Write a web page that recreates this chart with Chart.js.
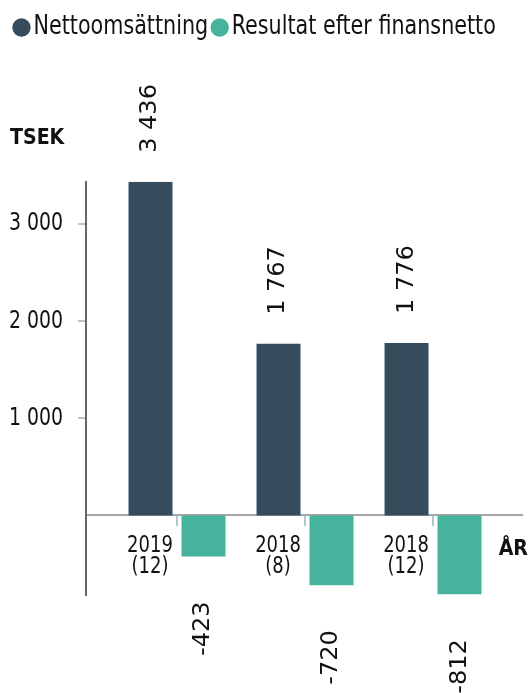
<!DOCTYPE html>
<html><head><meta charset="utf-8">
<script src="https://cdn.jsdelivr.net/npm/chart.js@4"></script>
<style>html,body{margin:0;padding:0;background:#fff}#wrap{width:531px;height:693px}</style>
</head><body><div id="wrap"><canvas id="c" width="531" height="693"></canvas></div>
<script>
const categories = [['2019','(12)'], ['2018','(8)'], ['2018','(12)']];
const seriesNames = ['Nettoomsättning', 'Resultat efter finansnetto'];
const netSales = [3436, 1767, 1776];
const resultAfterFin = [-423, -720, -812];
const yTicks = [1000, 2000, 3000];
const yTitle = 'TSEK';
const xTitle = 'ÅR';

const COND = '"DejaVu Sans Condensed", "DejaVu Sans", sans-serif';
const REG = '"DejaVu Sans", sans-serif';
const SY = 1.16; // vertical stretch of the lettering

const canvas = document.getElementById('c');
const ctx0 = canvas.getContext('2d');
const origFill = ctx0.fillText;
ctx0._rawFill = function(t, x, y) { origFill.call(this, t, x, y); };
ctx0.fillText = function(text, x, y, maxWidth) {
  this.save();
  this.translate(x, y);
  this.scale(1, SY);
  if (maxWidth === undefined) origFill.call(this, text, 0, 0);
  else origFill.call(this, text, 0, 0, maxWidth);
  this.restore();
};

function fmt(v) {
  const s = String(Math.abs(v)).replace(/\B(?=(\d{3})+(?!\d))/g, ' ');
  return (v < 0 ? '-' : '') + s;
}

const valueLabels = {
  id: 'valueLabels',
  afterDatasetsDraw(chart) {
    const ctx = chart.ctx;
    ctx.save();
    ctx.font = '23px ' + COND;
    ctx.fillStyle = '#111';
    ctx.textBaseline = 'middle';
    chart.data.datasets.forEach((ds, di) => {
      const meta = chart.getDatasetMeta(di);
      meta.data.forEach((bar, i) => {
        const v = ds.data[i].y;
        ctx.save();
        if (v >= 0) {
          ctx.translate(bar.x, bar.y - 29);
          ctx.rotate(-Math.PI / 2);
          ctx.textAlign = 'left';
        } else {
          ctx.translate(bar.x, bar.y + 45);
          ctx.rotate(-Math.PI / 2);
          ctx.textAlign = 'right';
        }
        ctx.scale(SY, 1);
        ctx._rawFill(fmt(v), 0, 0);
        ctx.restore();
      });
    });
    const ys = chart.scales.y;
    ctx.font = 'bold 19px ' + REG;
    ctx.textAlign = 'right';
    ctx.textBaseline = 'alphabetic';
    ctx.fillText(xTitle, chart.width - 3, ys.getPixelForValue(0) + 40);
    ctx.restore();
  }
};

new Chart(canvas, {
  type: 'bar',
  data: {
    datasets: [
      { label: seriesNames[0], data: netSales.map((v, i) => ({x: i, y: v})), backgroundColor: '#364c5c', borderWidth: 0 },
      { label: seriesNames[1], data: resultAfterFin.map((v, i) => ({x: i, y: v})), backgroundColor: '#46b39d', borderWidth: 0 }
    ]
  },
  options: {
    responsive: false,
    animation: false,
    categoryPercentage: 0.828,
    barPercentage: 0.83,
    layout: { padding: { top: 5, left: 10, right: 9, bottom: 98 } },
    plugins: {
      tooltip: { enabled: false },
      legend: {
        weight: 3000,
        align: 'start',
        labels: {
          usePointStyle: true, pointStyle: 'circle', boxWidth: 1, boxHeight: 13,
          font: { family: COND, size: 23 }, color: '#111', padding: 11
        }
      },
      title: {
        display: true, text: yTitle, align: 'start', color: '#111',
        font: { family: REG, size: 19, weight: 'bold' },
        padding: { top: 78, bottom: 32 }
      }
    },
    scales: {
      x: {
        type: 'linear', min: -0.711, max: 2.695, position: { y: 0 }, offset: false,
        afterBuildTicks: s => { s.ticks = categories.map((c, i) => ({ value: i })); },
        ticks: {
          callback: v => categories[v], labelOffset: -27, padding: 10,
          font: { family: COND, size: 20, lineHeight: 1.05 }, color: '#111',
          maxRotation: 0, autoSkip: false
        },
        grid: { drawOnChartArea: false, drawTicks: true, tickLength: 10, lineWidth: 2, color: '#b7c6d4', offset: false },
        border: { color: '#a6a6a6', width: 2 }
      },
      y: {
        min: -820, max: 3436,
        afterFit: s => { s.width = 76; },
        afterBuildTicks: s => { s.ticks = yTicks.map(v => ({ value: v })); },
        ticks: {
          callback: v => fmt(v), padding: 15,
          font: { family: COND, size: 21 }, color: '#111'
        },
        grid: { drawOnChartArea: false, drawTicks: true, tickLength: 8, lineWidth: 2, color: '#b7c6d4' },
        border: { color: '#666666', width: 2 }
      }
    }
  },
  plugins: [valueLabels]
});
</script></body></html>
